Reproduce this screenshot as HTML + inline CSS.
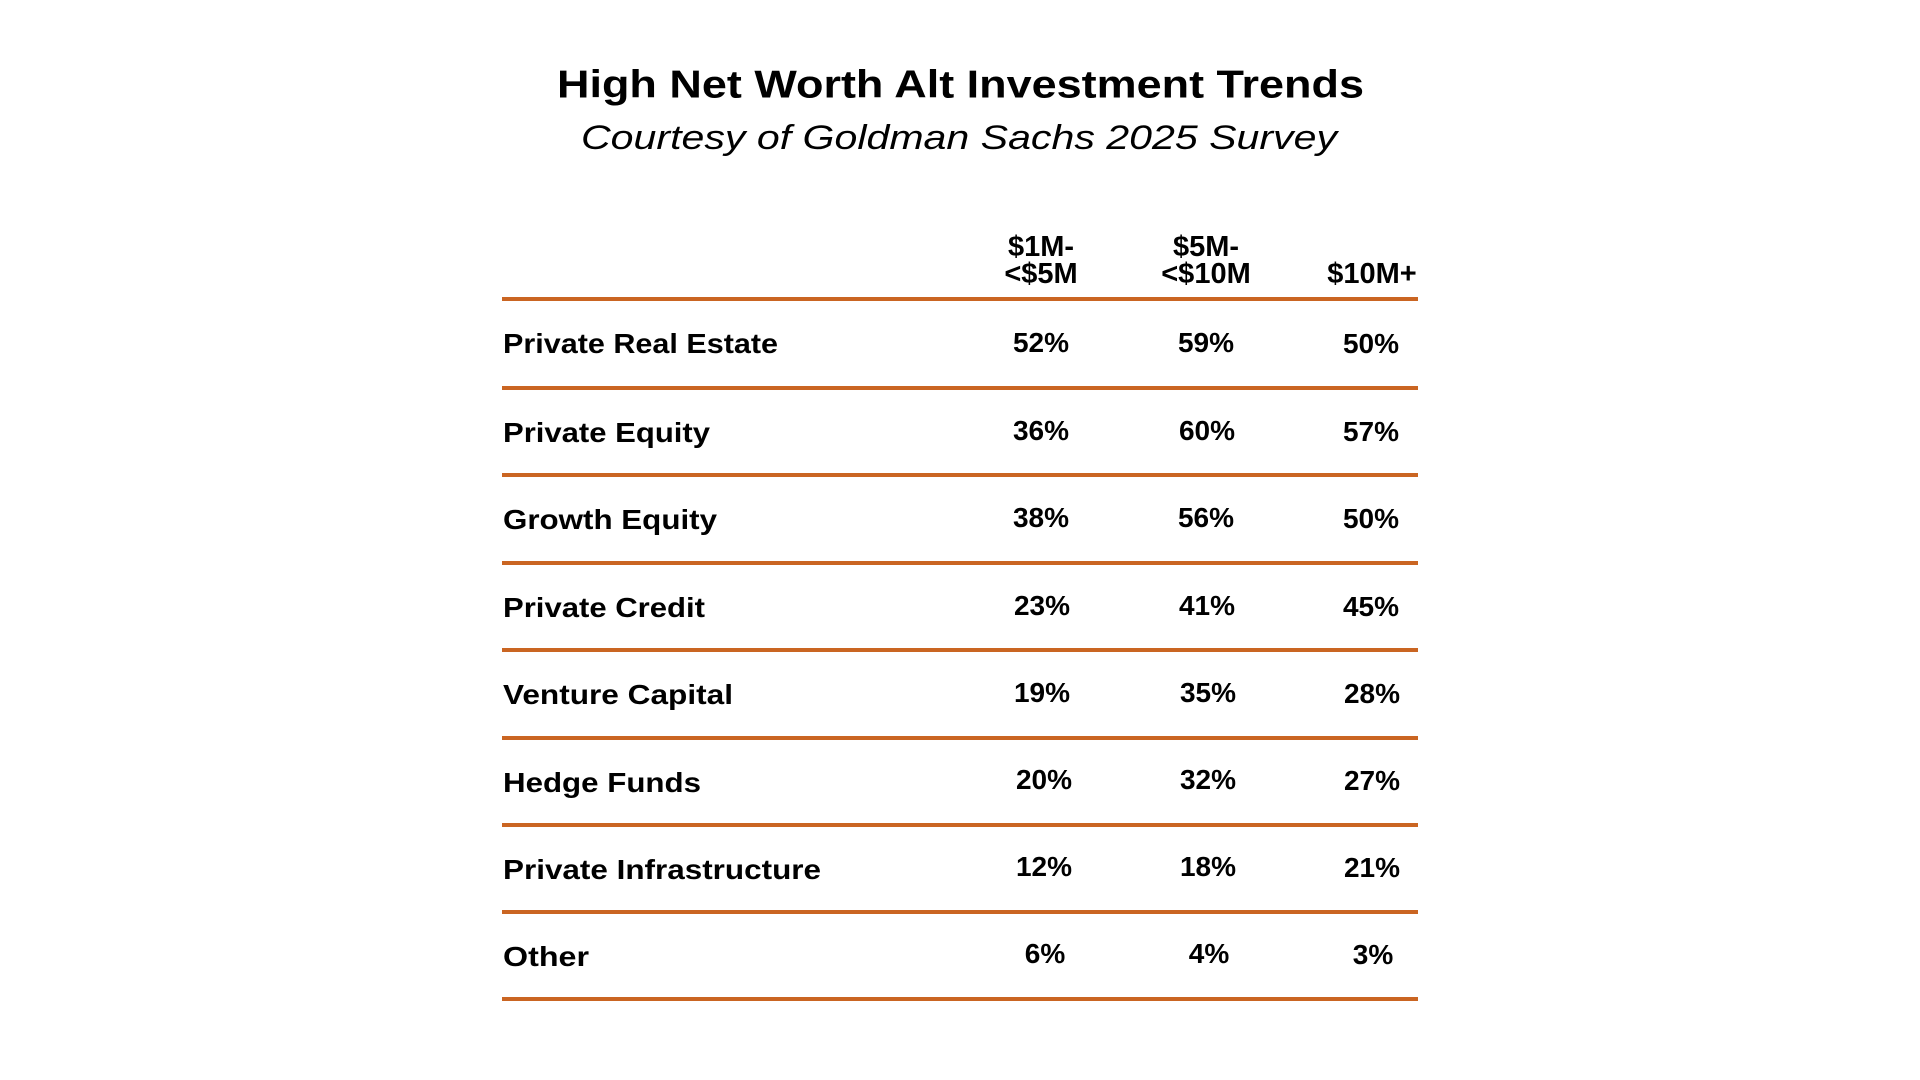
<!DOCTYPE html>
<html>
<head>
<meta charset="utf-8">
<style>
  html, body { margin: 0; padding: 0; background: #ffffff; }
  body { width: 1920px; height: 1080px; overflow: hidden; }
  svg { display: block; }
  text { font-family: "Liberation Sans", "DejaVu Sans", sans-serif; fill: #000; }
  .lbl { font-size: 28px; font-weight: bold; }
  .num { font-size: 28px; font-weight: bold; text-anchor: middle; }
  .hdr { font-size: 29px; font-weight: bold; text-anchor: middle; }
</style>
</head>
<body>
<svg width="1920" height="1080" viewBox="0 0 1920 1080" xmlns="http://www.w3.org/2000/svg">
  <rect x="0" y="0" width="1920" height="1080" fill="#ffffff"/>

  <!-- Title -->
  <text x="557" y="97.5" font-size="39" font-weight="bold" textLength="807" lengthAdjust="spacingAndGlyphs">High Net Worth Alt Investment Trends</text>
  <text x="581" y="149" font-size="34" font-style="italic" textLength="756" lengthAdjust="spacingAndGlyphs">Courtesy of Goldman Sachs 2025 Survey</text>

  <!-- Header -->
  <text class="hdr" x="1041" y="256">$1M-</text>
  <text class="hdr" x="1041" y="283">&lt;$5M</text>
  <text class="hdr" x="1206" y="256">$5M-</text>
  <text class="hdr" x="1206" y="283">&lt;$10M</text>
  <text class="hdr" x="1372" y="283">$10M+</text>

  <!-- Lines -->
  <g fill="#CA6522">
    <rect x="502" y="297" width="916" height="4"/>
    <rect x="502" y="386" width="916" height="4"/>
    <rect x="502" y="473" width="916" height="4"/>
    <rect x="502" y="561" width="916" height="4"/>
    <rect x="502" y="648" width="916" height="4"/>
    <rect x="502" y="736" width="916" height="4"/>
    <rect x="502" y="823" width="916" height="4"/>
    <rect x="502" y="910" width="916" height="4"/>
    <rect x="502" y="997" width="916" height="4"/>
  </g>

  <!-- Row labels -->
  <text class="lbl" x="503" y="353" textLength="275" lengthAdjust="spacingAndGlyphs">Private Real Estate</text>
  <text class="lbl" x="503" y="442" textLength="207" lengthAdjust="spacingAndGlyphs">Private Equity</text>
  <text class="lbl" x="503" y="529" textLength="214" lengthAdjust="spacingAndGlyphs">Growth Equity</text>
  <text class="lbl" x="503" y="617" textLength="202" lengthAdjust="spacingAndGlyphs">Private Credit</text>
  <text class="lbl" x="503" y="704" textLength="230" lengthAdjust="spacingAndGlyphs">Venture Capital</text>
  <text class="lbl" x="503" y="792" textLength="198" lengthAdjust="spacingAndGlyphs">Hedge Funds</text>
  <text class="lbl" x="503" y="879" textLength="318" lengthAdjust="spacingAndGlyphs">Private Infrastructure</text>
  <text class="lbl" x="503" y="966" textLength="86" lengthAdjust="spacingAndGlyphs">Other</text>

  <!-- Values -->
  <text class="num" x="1041" y="352">52%</text>
  <text class="num" x="1206" y="352">59%</text>
  <text class="num" x="1371" y="353">50%</text>

  <text class="num" x="1041" y="440">36%</text>
  <text class="num" x="1207" y="440">60%</text>
  <text class="num" x="1371" y="441">57%</text>

  <text class="num" x="1041" y="527">38%</text>
  <text class="num" x="1206" y="527">56%</text>
  <text class="num" x="1371" y="528">50%</text>

  <text class="num" x="1042" y="615">23%</text>
  <text class="num" x="1207" y="615">41%</text>
  <text class="num" x="1371" y="616">45%</text>

  <text class="num" x="1042" y="702">19%</text>
  <text class="num" x="1208" y="702">35%</text>
  <text class="num" x="1372" y="703">28%</text>

  <text class="num" x="1044" y="789">20%</text>
  <text class="num" x="1208" y="789">32%</text>
  <text class="num" x="1372" y="790">27%</text>

  <text class="num" x="1044" y="876">12%</text>
  <text class="num" x="1208" y="876">18%</text>
  <text class="num" x="1372" y="877">21%</text>

  <text class="num" x="1045" y="963">6%</text>
  <text class="num" x="1209" y="963">4%</text>
  <text class="num" x="1373" y="964">3%</text>
</svg>
</body>
</html>
